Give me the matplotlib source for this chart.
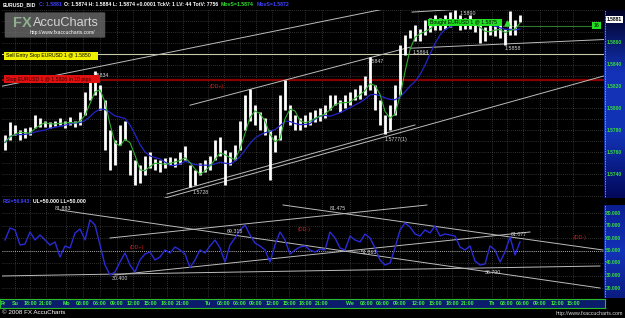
import matplotlib
matplotlib.use("Agg")
import matplotlib.pyplot as plt
from matplotlib.patches import Rectangle, FancyBboxPatch
from matplotlib.colors import LinearSegmentedColormap
import numpy as np
import pandas as pd

W, H = 625, 318
plt.rcParams['font.family'] = ['Liberation Sans', 'DejaVu Sans']

# ---- data (one bar per slot) ----
highs = [
    1.5776, 1.5788, 1.5785, 1.5780, 1.5782, 1.5783, 1.5794, 1.5791, 1.5789, 1.5788,
    1.5789, 1.5791, 1.5789, 1.5792, 1.5789, 1.5797, 1.5815, 1.5828, 1.5834, 1.5821,
    1.5808, 1.5780, 1.5771, 1.5785, 1.5789, 1.5762, 1.5753, 1.5748, 1.5757, 1.5760,
    1.5754, 1.5753, 1.5755, 1.5756, 1.5755, 1.5760, 1.5766, 1.5748, 1.5744, 1.5750,
    1.5753, 1.5757, 1.5771, 1.5774, 1.5762, 1.5760, 1.5767, 1.5789, 1.5812, 1.5818,
    1.5803, 1.5797, 1.5791, 1.5780, 1.5776, 1.5812, 1.5826, 1.5803, 1.5794, 1.5791,
    1.5794, 1.5797, 1.5799, 1.5800, 1.5803, 1.5812, 1.5812, 1.5808, 1.5812, 1.5815,
    1.5818, 1.5821, 1.5830, 1.5847, 1.5821, 1.5808, 1.5794, 1.5803, 1.5821, 1.5858,
    1.5867, 1.5872, 1.5876, 1.5873, 1.5881, 1.5883, 1.5885, 1.5883, 1.5885, 1.5888,
    1.5890, 1.5885, 1.5883, 1.5885, 1.5881, 1.5876, 1.5874, 1.5881, 1.5879, 1.5876,
    1.5873, 1.5889, 1.5881, 1.5885]
lows = [
    1.5762, 1.5771, 1.5776, 1.5771, 1.5773, 1.5776, 1.5782, 1.5783, 1.5783, 1.5782,
    1.5784, 1.5785, 1.5782, 1.5785, 1.5783, 1.5785, 1.5794, 1.5808, 1.5812, 1.5799,
    1.5762, 1.5744, 1.5748, 1.5767, 1.5771, 1.5739, 1.5730, 1.5732, 1.5739, 1.5746,
    1.5744, 1.5742, 1.5746, 1.5748, 1.5747, 1.5749, 1.5753, 1.5728, 1.5730, 1.5739,
    1.5742, 1.5744, 1.5753, 1.5757, 1.5730, 1.5748, 1.5753, 1.5762, 1.5780, 1.5789,
    1.5785, 1.5780, 1.5776, 1.5735, 1.5760, 1.5771, 1.5799, 1.5785, 1.5780, 1.5780,
    1.5783, 1.5785, 1.5788, 1.5789, 1.5791, 1.5799, 1.5803, 1.5797, 1.5800, 1.5803,
    1.5808, 1.5809, 1.5812, 1.5817, 1.5799, 1.5785, 1.5777, 1.5780, 1.5794, 1.5812,
    1.5849, 1.5864, 1.5862, 1.5862, 1.5867, 1.5870, 1.5872, 1.5872, 1.5873, 1.5874,
    1.5876, 1.5872, 1.5873, 1.5873, 1.5870, 1.5860, 1.5862, 1.5867, 1.5866, 1.5864,
    1.5858, 1.5867, 1.5867, 1.5879]
rsi = [
    58.4, 68.0, 66.4, 54.4, 55.2, 64.8, 58.4, 62.4, 58.4, 54.4,
    56.8, 44.8, 53.6, 52.0, 64.0, 67.2, 58.4, 74.4, 70.4, 54.4,
    38.4, 30.4, 32.8, 40.8, 48.0, 38.4, 32.8, 42.4, 47.2, 48.8,
    42.4, 44.8, 50.4, 48.0, 52.8, 50.4, 47.2, 36.4, 42.4, 50.4,
    48.0, 53.6, 58.4, 52.0, 40.8, 54.4, 60.0, 66.4, 70.4, 62.4,
    56.0, 53.6, 50.4, 40.8, 54.4, 64.8, 58.4, 47.2, 50.4, 52.8,
    53.6, 50.4, 48.8, 51.2, 50.4, 64.8, 60.0, 52.0, 50.4, 61.6,
    58.4, 56.8, 63.2, 60.0, 52.0, 42.4, 38.4, 40.0, 52.0, 66.4,
    72.0, 68.8, 63.2, 61.6, 66.4, 64.0, 69.6, 61.6, 63.2, 62.4,
    61.6, 52.8, 50.4, 53.6, 41.6, 38.4, 39.2, 53.6, 50.4, 40.8,
    48.8, 60.8, 46.4, 56.9]

tick_labels = ['Fr', 'Su', '18:00', '21:00',
               'Mo', '03:00', '06:00', '09:00', '12:00', '15:00', '18:00', '21:00',
               'Tu', '03:00', '06:00', '09:00', '12:00', '15:00', '18:00', '21:00',
               'We', '03:00', '06:00', '09:00', '12:00', '15:00', '18:00', '21:00',
               'Th', '03:00', '06:00', '09:00', '12:00', '15:00']
tick_pos = [-0.4, 2, 5, 8.2,
            12.2, 15.6, 19, 22.4, 25.6, 29, 32.4, 35.6,
            40.6, 43.8, 47, 50.2, 53.4, 56.8, 60, 63.4,
            69, 72.4, 75.6, 79, 82.6, 86, 89.4, 92.6,
            97.4, 100.4, 103.6, 107, 110.4, 113.6]

price_labels = [1.5860, 1.5840, 1.5820, 1.5800, 1.5780, 1.5760, 1.5740]
rsi_labels = [80, 70, 60, 50, 40, 30, 20]
last_price = 1.5881
sell_entry = 1.5850
stop_level = 1.5826
bought_at = 1.5875

# trend lines drawn on the chart: (x0, y0, x1, y1)
price_trends = [(-1.0, 1.5820, 76.0, 1.5891), (81.4, 1.5888, 99.4, 1.5893),
                (37.0, 1.5803, 81.0, 1.5856), (31.0, 1.5717, 120.0, 1.5830),
                (32.4, 1.5722, 82.0, 1.5785), (81.0, 1.5855, 120.0, 1.5863)]
rsi_trends = [(11.0, 82.4, 119.0, 20.0), (55.6, 86.4, 119.6, 50.4),
              (21.0, 60.0, 84.4, 86.4), (22.0, 30.4, 105.0, 64.8),
              (-1.0, 29.6, 119.0, 37.6)]

price_notes = [(17.6, 1.5830, '1.5834'), (37.6, 1.5723, '1.5728'),
               (72.6, 1.5843, '1.5847'), (76.0, 1.5772, '1.5777(1)'),
               (81.6, 1.5851, '1.5864'), (91.0, 1.5887, '1.5890'),
               (100.0, 1.5855, '1.5858')]
rsi_notes = [(10.0, 84.0, '81.883'), (44.4, 65.6, '69.315'), (21.4, 27.2, '30.400'),
             (65.0, 84.0, '81.475'), (71.2, 48.8, '51.863'), (101.2, 63.2, '61.077'),
             (96.0, 32.8, '36.790')]

x = np.arange(len(highs))
mid = (np.array(highs) + np.array(lows)) / 2
ma_fast = pd.Series(mid).rolling(3, min_periods=1).mean()
ma_slow = pd.Series(mid).rolling(9, min_periods=1).mean()

fig = plt.figure(figsize=(W / 100, H / 100), dpi=100, facecolor='black')


def box(x0, y0, x1, y1):
    return [x0 / W, 1 - y1 / H, (x1 - x0) / W, (y1 - y0) / H]


XMIN, XMAX = -0.6, 119.8
GRID = dict(color='#5c5c5c', lw=0.5, ls=(0, (1, 2)))
TXT = dict(fontsize=3.8, color='#d8d8d8')

# ---- price panel ----
ax = fig.add_axes(box(2, 10, 604, 198), facecolor='black')
ax.set_xlim(XMIN, XMAX)
ax.set_ylim(1.57183, 1.58899)
ax.axis('off')
for p in np.arange(1.572, 1.5891, 0.001):
    ax.axhline(p, **GRID)
for t in tick_pos[1:]:
    ax.axvline(t, **GRID)

ax.axhline(sell_entry, color='#c8c8aa', lw=0.8)
ax.axhline(stop_level, color='#8a0000', lw=1.6)
ax.plot([99.6, 118], [bought_at, bought_at], color='#2f7a2f', lw=0.8)
for x0, y0, x1, y1 in price_trends:
    ax.plot([x0, x1], [y0, y1], color='#bcbcbc', lw=0.7)

ax.vlines(x, lows, highs, color='white', lw=2.0)
ax.plot(x, ma_slow, color='#2424c8', lw=0.9)
ax.plot(x, ma_fast, color='#2fae2f', lw=0.8)
ax.plot([100.4], [1.5878], marker='^', color='#30e030', ms=3.5)

for nx, ny, s in price_notes:
    ax.text(nx, ny, s, va='center', **TXT)
ax.text(41, 1.5820, '(DD+)', color='#d02020', fontsize=3.8, va='center')

# ---- price scale ----
cm_top = LinearSegmentedColormap.from_list('sc', ['#000024', '#1433b8', '#1232b4', '#02085a'])
sc = fig.add_axes(box(604, 10, 625, 198))
sc.imshow(np.linspace(0, 1, 256).reshape(-1, 1), cmap=cm_top, aspect='auto',
          extent=[0, 1, 1.57183, 1.58899])
sc.set_xlim(0, 1)
sc.set_ylim(1.57183, 1.58899)
sc.axis('off')
sc.axvline(0.03, color='#c8c890', lw=0.6, ls=(0, (1, 1)))
for p in price_labels:
    sc.text(0.12, p, f'{p:.4f}', color='#38e038', fontsize=3.5, fontweight='bold', va='center')
sc.text(0.5, last_price, f'{last_price:.4f}', color='black', fontsize=3.6, fontweight='bold',
        ha='center', va='center', bbox=dict(fc='white', ec='none', pad=0.8))

# ---- RSI panel ----
axr = fig.add_axes(box(2, 199, 604, 298), facecolor='black')
axr.set_xlim(XMIN, XMAX)
axr.set_ylim(12, 91.2)
axr.axis('off')
for r in range(20, 90, 10):
    axr.axhline(r, **GRID)
for t in tick_pos[1:]:
    axr.axvline(t, **GRID)
axr.axhline(50, color='#cfcfcf', lw=0.6, ls=(0, (1, 1.5)))
for x0, y0, x1, y1 in rsi_trends:
    axr.plot([x0, x1], [y0, y1], color='#bcbcbc', lw=0.7)
axr.plot(x, rsi, color='#2a2ad8', lw=1.0)
for nx, ny, s in rsi_notes:
    axr.text(nx, ny, s, va='center', **TXT)
axr.text(25.0, 52.8, '(DD+)', color='#d02020', fontsize=3.8, va='center')
axr.text(58.5, 66.4, '(DD-)', color='#d02020', fontsize=3.8, va='center')
axr.text(113.8, 60.0, '(DD-)', color='#d02020', fontsize=3.8, va='center')

cm_low = LinearSegmentedColormap.from_list('sr', ['#0a1e90', '#1232b8', '#0a1c80'])
sr = fig.add_axes(box(604, 205, 625, 298))
sr.imshow(np.linspace(0, 1, 256).reshape(-1, 1), cmap=cm_low, aspect='auto',
          extent=[0, 1, 12, 86.4])
sr.set_xlim(0, 1)
sr.set_ylim(12, 86.4)
sr.axis('off')
sr.axvline(0.03, color='#c8c890', lw=0.6, ls=(0, (1, 1)))
for r in rsi_labels:
    sr.text(0.1, r, f'{r:.3f}', color='#38e038', fontsize=3.5, fontweight='bold', va='center')

# ---- time axis bar ----
tb = fig.add_axes(box(0, 299, 605, 308), facecolor='#0b1c6c')
tb.set_xlim(-1, 120)
tb.set_ylim(0, 1)
tb.set_xticks([])
tb.set_yticks([])
for sp in tb.spines.values():
    sp.set_color('#28b828')
    sp.set_linewidth(0.8)
for t, s in zip(tick_pos, tick_labels):
    tb.text(t, 0.45, s, color='#40f040', fontsize=3.8, fontweight='bold', ha='center', va='center')

# ---- header lines ----
renderer = fig.canvas.get_renderer()


def text_run(px, py, parts, **kw):
    fx = px / W
    for s, c in parts:
        t = fig.text(fx, 1 - py / H, s, color=c, va='center', **kw)
        fx += (t.get_window_extent(renderer).width + 2.5) / W


text_run(3, 5, [('EURUSD_BID', 'white'), ('C: 1.5881', '#4040ff'),
                ('O: 1.5874 H: 1.5884 L: 1.5874 +0.0001 TckV: 1 LV: 44 TotV: 7756', 'white'),
                ('MovS=1.5874', '#30e030'), ('MovS=1.5872', '#4040ff')],
         fontsize=3.7, fontweight='bold')
text_run(3, 201.5, [('RSI=56.943', '#4040ff'), ('UL=50.000 LL=50.000', 'white')],
         fontsize=3.7, fontweight='bold')


# ---- order labels ----
def label_box(x0, y0, x1, y1, fc, s, tc='black'):
    fig.add_artist(Rectangle((x0 / W, 1 - y1 / H), (x1 - x0) / W, (y1 - y0) / H,
                             transform=fig.transFigure, fc=fc, ec='none', zorder=5))
    fig.text((x0 + 2) / W, 1 - (y0 + y1) / 2 / H, s, color=tc, fontsize=3.7,
             va='center', zorder=6)


label_box(4, 52, 98, 60, '#f0f000', 'Sell Entry Stop EURUSD 1 @ %.4f' % sell_entry)
label_box(4, 75, 100, 83, '#e01010', 'Stop EURUSD 1 @ %.4f In 10 pips' % stop_level, '#300000')
label_box(428, 19, 502, 26, '#22e022', 'Bought EURUSD 1 @ %.4f' % bought_at)
label_box(592, 22, 601, 29, '#22e022', '16')

# ---- logo ----
fig.add_artist(FancyBboxPatch((6 / W, 1 - 37 / H), 98 / W, 24 / H,
                              boxstyle='round,pad=0.002', transform=fig.transFigure,
                              fc='#6a6a6a', ec='none', alpha=0.8, zorder=4))
fig.text(13 / W, 1 - 23 / H, 'FX', color='#8fb08f', fontsize=10.5, fontweight='bold',
         va='center', zorder=6)
fig.text(33 / W, 1 - 23 / H, 'AccuCharts', color='#d4d4d4', fontsize=9.2, va='center', zorder=6)
fig.text(30 / W, 1 - 32.5 / H, 'http://www.fxaccucharts.com/', color='white', fontsize=3.6,
         va='center', zorder=6)

# ---- footer ----
fig.text(2 / W, 1 - 313 / H, '\u00a9 2008 FX AccuCharts', color='white', fontsize=4.5, va='center')
fig.text(623 / W, 1 - 313.5 / H, 'http://www.fxaccucharts.com', color='#dddddd', fontsize=3.8,
         ha='right', va='center')

fig.savefig('out.png', dpi=100, facecolor='black')
